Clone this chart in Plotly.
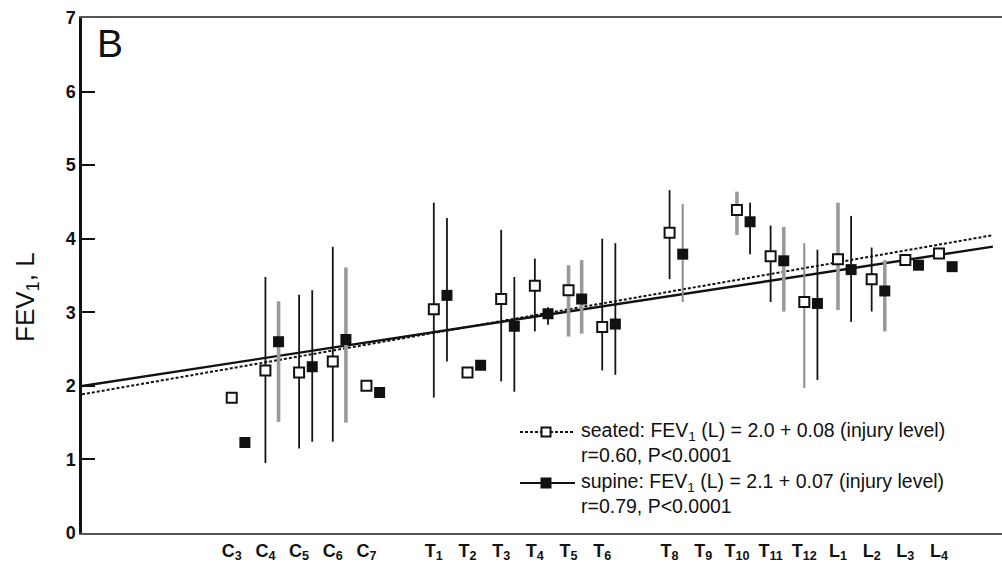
import plotly.graph_objects as go

# ---- data -------------------------------------------------------------
# Injury levels (C1 = 1 ... C8 = 8, T1 = 9 ... T12 = 20, L1 = 21 ... L4 = 24)
level_names = ["C3", "C4", "C5", "C6", "C7", "T1", "T2", "T3", "T4", "T5", "T6",
               "T8", "T10", "T11", "T12", "L1", "L2", "L3", "L4"]
levels = [3, 4, 5, 6, 7, 9, 10, 11, 12, 13, 14, 16, 18, 19, 20, 21, 22, 23, 24]

# Axis tick labels (T9 has a label but no group)
tick_names = ["C3", "C4", "C5", "C6", "C7", "T1", "T2", "T3", "T4", "T5", "T6",
              "T8", "T9", "T10", "T11", "T12", "L1", "L2", "L3", "L4"]
tick_levels = [3, 4, 5, 6, 7, 9, 10, 11, 12, 13, 14, 16, 17, 18, 19, 20, 21, 22, 23, 24]

# FEV1 (L), seated
seated_mean = [1.84, 2.21, 2.18, 2.33, 2.00, 3.04, 2.18, 3.18, 3.36, 3.30, 2.80,
               4.08, 4.39, 3.76, 3.14, 3.72, 3.45, 3.71, 3.80]
seated_hi = [None, 3.48, 3.24, 3.89, None, 4.49, None, 4.12, 3.73, 3.64, 4.00,
             4.66, 4.64, 4.18, 3.94, 4.49, 3.88, None, None]
seated_lo = [None, 0.95, 1.15, 1.24, None, 1.84, None, 2.06, 2.74, 2.67, 2.21,
             3.45, 4.05, 3.14, 1.97, 3.03, 3.01, None, None]

# FEV1 (L), supine
supine_mean = [1.23, 2.60, 2.26, 2.63, 1.91, 3.23, 2.28, 2.81, 2.98, 3.18, 2.84,
               3.79, 4.23, 3.70, 3.12, 3.58, 3.29, 3.64, 3.62]
supine_hi = [None, 3.15, 3.30, 3.61, None, 4.28, None, 3.48, 3.07, 3.71, 3.94,
             4.47, 4.49, 4.16, 3.85, 4.31, 3.71, None, None]
supine_lo = [None, 1.51, 1.24, 1.50, None, 2.33, None, 1.92, 2.83, 2.71, 2.15,
             3.14, 3.79, 3.01, 2.08, 2.87, 2.74, None, None]

# Regression fits: FEV1 = intercept + slope * injury level
seated_fit = (2.0, 0.08)
supine_fit = (2.1, 0.07)

# ---- styling ----------------------------------------------------------
FONT = "Liberation Sans, Arial, Helvetica, sans-serif"
INK = "#111111"
X_RANGE = [-1.446, 25.87]
FIT_END = 25.6
SUPINE_SHIFT = 0.39          # supine marks sit just right of the seated ones

# tone of each error bar (black, thick grey, thin grey)
BAR_TONES = {
    "k": dict(color="#151515", width=1.8),
    "g": dict(color="#9a9a9a", width=3.6),
    "t": dict(color="#8c8c8c", width=2.0),
}
seated_tone = {"T5": "g", "T10": "g", "L1": "g", "T12": "t"}
supine_tone = {"C4": "g", "C6": "g", "T5": "g", "T11": "g", "L2": "g", "T8": "t"}

fig = go.Figure()

# regression lines
for (a, b), dash, w in [(seated_fit, "3px,2px", 2.0), (supine_fit, "solid", 2.4)]:
    xs = [X_RANGE[0], FIT_END]
    fig.add_trace(go.Scatter(x=xs, y=[a + b * x for x in xs], mode="lines",
                             line=dict(color=INK, width=w, dash=dash),
                             hoverinfo="skip", showlegend=False))


def bar_segments(xs, lo, hi, names, tones, tone):
    px, py = [], []
    for x, l, h, n in zip(xs, lo, hi, names):
        if l is None or h is None:
            continue
        if tones.get(n, "k") != tone:
            continue
        px += [x, x, None]
        py += [l, h, None]
    return px, py


x_seated = list(levels)
x_supine = [v + SUPINE_SHIFT for v in levels]

for xs, lo, hi, tones in [(x_seated, seated_lo, seated_hi, seated_tone),
                          (x_supine, supine_lo, supine_hi, supine_tone)]:
    for tone, st in BAR_TONES.items():
        px, py = bar_segments(xs, lo, hi, level_names, tones, tone)
        if px:
            fig.add_trace(go.Scatter(x=px, y=py, mode="lines",
                                     line=dict(color=st["color"], width=st["width"]),
                                     hoverinfo="skip", showlegend=False))

# means
fig.add_trace(go.Scatter(x=x_seated, y=seated_mean, mode="markers", name="seated",
                         marker=dict(symbol="square", size=10, color="white",
                                     line=dict(color=INK, width=2)),
                         showlegend=False))
fig.add_trace(go.Scatter(x=x_supine, y=supine_mean, mode="markers", name="supine",
                         marker=dict(symbol="square", size=11, color=INK,
                                     line=dict(width=0)),
                         showlegend=False))

# ---- layout -----------------------------------------------------------
W, H = 1002, 563
ML, MR, MT, MB = 82, 0, 18, 30
PW, PH = W - ML - MR, H - MT - MB


def px_x(p):
    return (p - ML) / PW


def px_y(p):
    return (H - MB - p) / PH


tick_text = [f"{n[0]}<sub>{n[1:]}</sub>" for n in tick_names]

fig.update_layout(
    width=W, height=H,
    margin=dict(l=ML, r=MR, t=MT, b=MB, pad=0),
    paper_bgcolor="white", plot_bgcolor="white",
    font=dict(family=FONT, color=INK),
    hovermode=False,
    xaxis=dict(range=X_RANGE, showgrid=False, zeroline=False,
               showline=True, linecolor="#555555", linewidth=2, mirror=True,
               ticks="", tickvals=tick_levels, ticktext=tick_text,
               tickfont=dict(family=FONT, size=18, color=INK, weight="bold")),
    yaxis=dict(range=[0, 7], dtick=1, showgrid=False, zeroline=False,
               showline=True, linecolor=INK, linewidth=2.5, mirror=False,
               ticks="inside", ticklen=13, tickwidth=2, tickcolor=INK,
               tickfont=dict(family=FONT, size=18, color=INK, weight="bold")),
)

# panel letter
fig.add_annotation(text="B", xref="paper", yref="paper", x=px_x(95), y=px_y(44),
                   xanchor="left", yanchor="middle", showarrow=False,
                   font=dict(family=FONT, size=39, color=INK))

# y-axis title
fig.add_annotation(text="FEV<sub>1</sub>, L", xref="paper", yref="paper",
                   x=px_x(26), y=px_y(297), xanchor="center", yanchor="middle",
                   textangle=-90, showarrow=False,
                   font=dict(family=FONT, size=26, color=INK))

# key: sample lines, marks and equations (two-line text blocks)
key_rows = [
    (432, "3px,2px", "white",
     "seated: FEV<sub>1</sub> (L) = 2.0 + 0.08 (injury level)<br>r=0.60, P<0.0001"),
    (483, "solid", INK,
     "supine: FEV<sub>1</sub> (L) = 2.1 + 0.07 (injury level)<br>r=0.79, P<0.0001"),
]
KEY_SIZE = 19.5
for ky, dash, fill, text in key_rows:
    fig.add_shape(type="line", xref="paper", yref="paper",
                  x0=px_x(520), x1=px_x(575), y0=px_y(ky), y1=px_y(ky),
                  line=dict(color=INK, width=2, dash=dash))
    fig.add_shape(type="rect", xref="paper", yref="paper",
                  xsizemode="pixel", ysizemode="pixel",
                  xanchor=px_x(546), yanchor=px_y(ky),
                  x0=-4.5, x1=4.5, y0=-4.5, y1=4.5,
                  fillcolor=fill, line=dict(color=INK, width=2))
    fig.add_annotation(text=text, xref="paper", yref="paper",
                       x=px_x(580), y=px_y(ky - 1), xanchor="left", yanchor="top",
                       yshift=KEY_SIZE * 0.65, align="left", showarrow=False,
                       borderpad=0,
                       font=dict(family=FONT, size=KEY_SIZE, color=INK))

fig.write_html("out.html")
